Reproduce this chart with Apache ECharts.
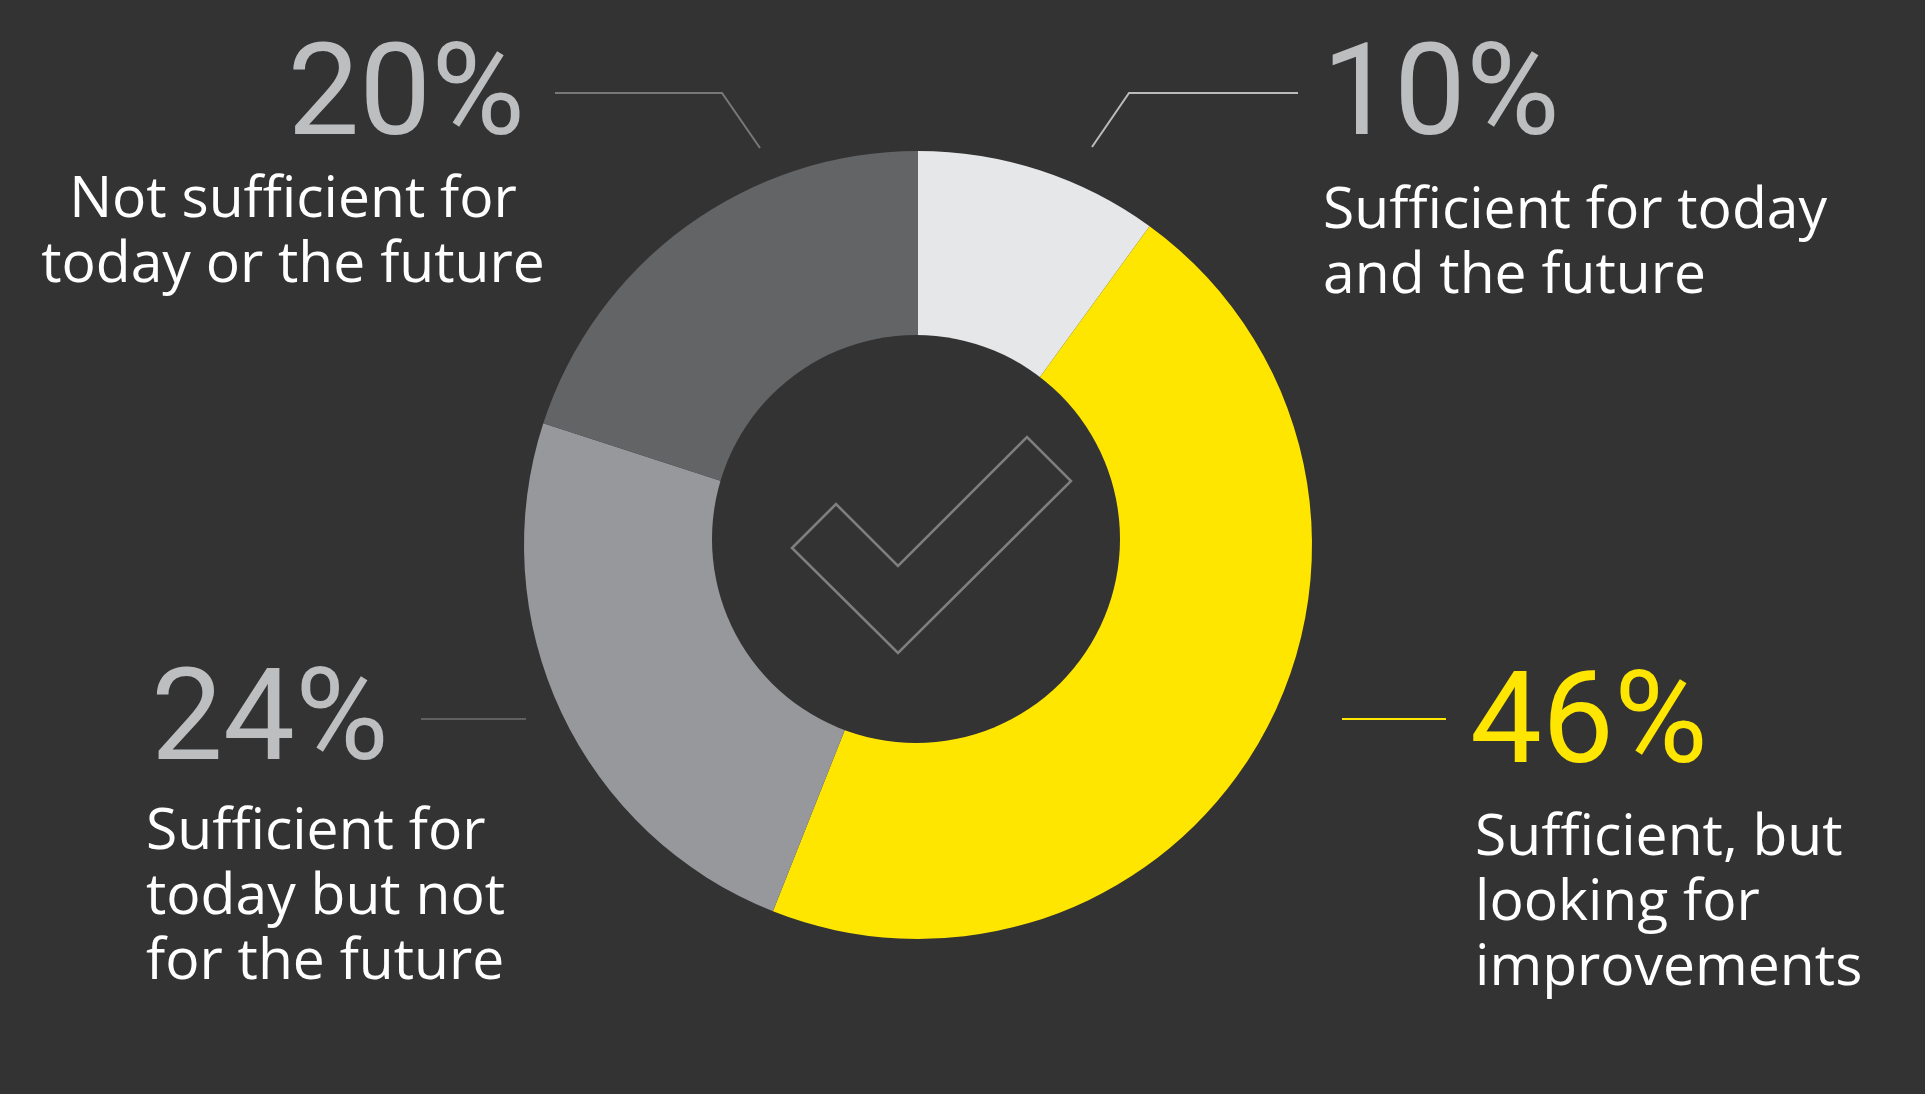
<!DOCTYPE html>
<html>
<head>
<meta charset="utf-8">
<script src="https://cdn.jsdelivr.net/npm/echarts@6/dist/echarts.min.js"></script>
<style>
  html, body { margin: 0; padding: 0; background: #333333; }
  #chart { width: 1925px; height: 1094px; }
</style>
</head>
<body>
<div id="chart"></div>
<script>
// Survey answers, clockwise from 12 o'clock
const categories = [
  'Sufficient for today\nand the future',
  'Sufficient, but\nlooking for\nimprovements',
  'Sufficient for\ntoday but not\nfor the future',
  'Not sufficient for\ntoday or the future'
];
const values = [10, 46, 24, 20];

// Slice and label colours
const sliceColors = ['#e6e7e8', '#ffe600', '#97989c', '#636466'];
const numberColors = ['#bcbec0', '#ffe600', '#bcbec0', '#bcbec0'];
const leaderColors = ['#b9bbbd', '#ffe600', '#5f6062', '#77787a'];

// Label placement: number baseline anchor, description baseline anchor, alignments, leader polyline
const labelLayout = [
  { num: [1322, 135], numAlign: 'left',  desc: [1323, 227], descAlign: 'left',
    leader: [[1092, 147], [1129, 93], [1298, 93]] },
  { num: [1470, 763], numAlign: 'left',  desc: [1475, 854], descAlign: 'left',
    leader: [[1342, 719], [1446, 719]] },
  { num: [151, 760],  numAlign: 'left',  desc: [146, 848],  descAlign: 'left',
    leader: [[421, 719], [526, 719]] },
  { num: [525, 135],  numAlign: 'right', desc: [293, 216],  descAlign: 'center',
    leader: [[555, 93], [722, 93], [760, 148]] }
];

const CENTER = [918, 545];
const HOLE_CENTER = [916, 539];
const HOLE_RADIUS = 204;
const NUM_FONT = 'Roboto, "Open Sans", sans-serif';
const DESC_FONT = '"Open Sans", "Noto Sans", sans-serif';
const NUM_SIZE = 128;
const DESC_SIZE = 57;
const LINE_GAP = 65;
// offset from baseline to the canvas "middle" line, per font
const NUM_MID = 0.26;
const DESC_MID = 0.27;

const chart = echarts.init(document.getElementById('chart'), null, { renderer: 'canvas' });

const graphics = [];

// Dark hole of the ring (sits slightly above the ring's centre)
graphics.push({
  type: 'circle',
  z: 100,
  shape: { cx: HOLE_CENTER[0], cy: HOLE_CENTER[1], r: HOLE_RADIUS },
  style: { fill: '#333333' },
  silent: true
});

// Leader lines
labelLayout.forEach((l, i) => {
  graphics.push({
    type: 'polyline',
    z: 100,
    shape: { points: l.leader },
    style: { stroke: leaderColors[i], lineWidth: 2, fill: null },
    silent: true
  });
});

// Percentage numbers and descriptions
values.forEach((v, i) => {
  const l = labelLayout[i];
  graphics.push({
    type: 'text',
    z: 100,
    x: l.num[0],
    y: l.num[1] - NUM_SIZE * NUM_MID,
    style: {
      text: v + '%',
      fill: numberColors[i],
      font: '400 ' + NUM_SIZE + 'px ' + NUM_FONT,
      align: l.numAlign,
      verticalAlign: 'middle'
    },
    silent: true
  });
  categories[i].split('\n').forEach((line, k) => {
    graphics.push({
      type: 'text',
      z: 100,
      x: l.desc[0],
      y: l.desc[1] + k * LINE_GAP - DESC_SIZE * DESC_MID,
      style: {
        text: line,
        fill: '#ffffff',
        font: '400 ' + DESC_SIZE + 'px ' + DESC_FONT,
        align: l.descAlign,
        verticalAlign: 'middle'
      },
      silent: true
    });
  });
});

// Check mark outline in the hole of the ring
graphics.push({
  type: 'polygon',
  z: 101,
  shape: {
    points: [[792, 548], [836, 504], [898, 566], [1027, 437], [1071, 481], [898, 653]]
  },
  style: { stroke: '#7f7f80', lineWidth: 2.5, fill: null, lineJoin: 'miter' },
  silent: true
});

chart.setOption({
  backgroundColor: '#333333',
  animation: false,
  series: [{
    type: 'pie',
    center: CENTER,
    radius: [190, 394],
    startAngle: 90,
    clockwise: true,
    silent: true,
    z: 1,
    label: { show: false },
    labelLine: { show: false },
    itemStyle: { borderWidth: 0 },
    data: values.map((v, i) => ({
      name: categories[i],
      value: v,
      itemStyle: { color: sliceColors[i] }
    }))
  }],
  graphic: { elements: graphics }
});
</script>
</body>
</html>
